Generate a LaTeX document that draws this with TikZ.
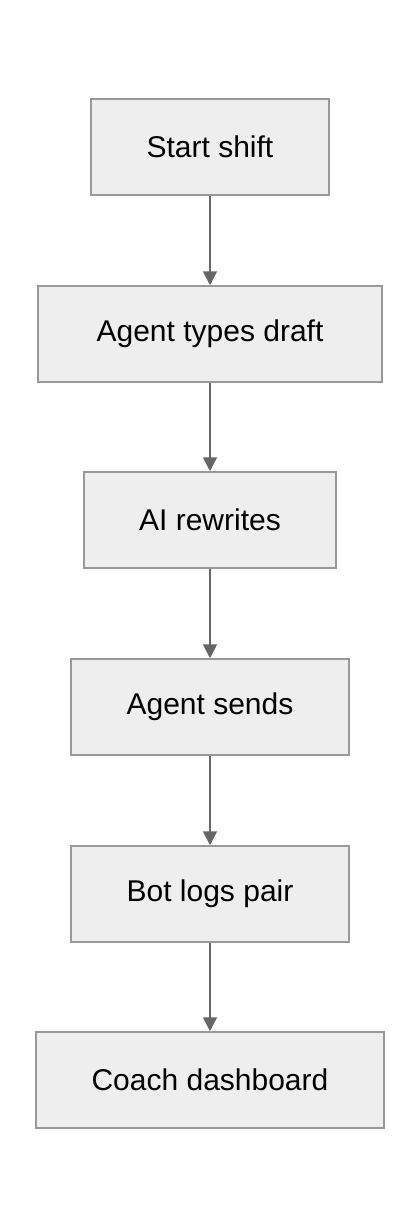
\documentclass[tikz,border=0pt]{standalone}
\usepackage{fontspec}
\setmainfont{Liberation Sans}
\usetikzlibrary{arrows.meta}
\definecolor{boxfill}{HTML}{EEEEEE}
\definecolor{boxline}{HTML}{999999}
\definecolor{arrowc}{HTML}{666666}
\begin{document}
\begin{tikzpicture}[x=1pt,y=-1pt,
  stepbox/.style={draw=boxline, fill=boxfill, line width=1.5pt, inner sep=0pt,
    minimum height=96pt, font=\fontsize{30}{36}\selectfont, text=black},
  conn/.style={draw=arrowc, line width=1.8pt, -{Triangle[length=14pt,width=14pt]}}]
\useasboundingbox (0,0) rectangle (420,1228);
\node[stepbox, minimum width=238pt] (a) at (210,147) {Start shift};
\node[stepbox, minimum width=344pt] (b) at (210,334) {Agent types draft};
\node[stepbox, minimum width=252pt] (c) at (210,520) {AI rewrites};
\node[stepbox, minimum width=278pt] (d) at (210,707) {Agent sends};
\node[stepbox, minimum width=278pt] (e) at (210,894) {Bot logs pair};
\node[stepbox, minimum width=348pt] (f) at (210,1080) {Coach dashboard};
\draw[conn] (a) -- (b);
\draw[conn] (b) -- (c);
\draw[conn] (c) -- (d);
\draw[conn] (d) -- (e);
\draw[conn] (e) -- (f);
\end{tikzpicture}
\end{document}
